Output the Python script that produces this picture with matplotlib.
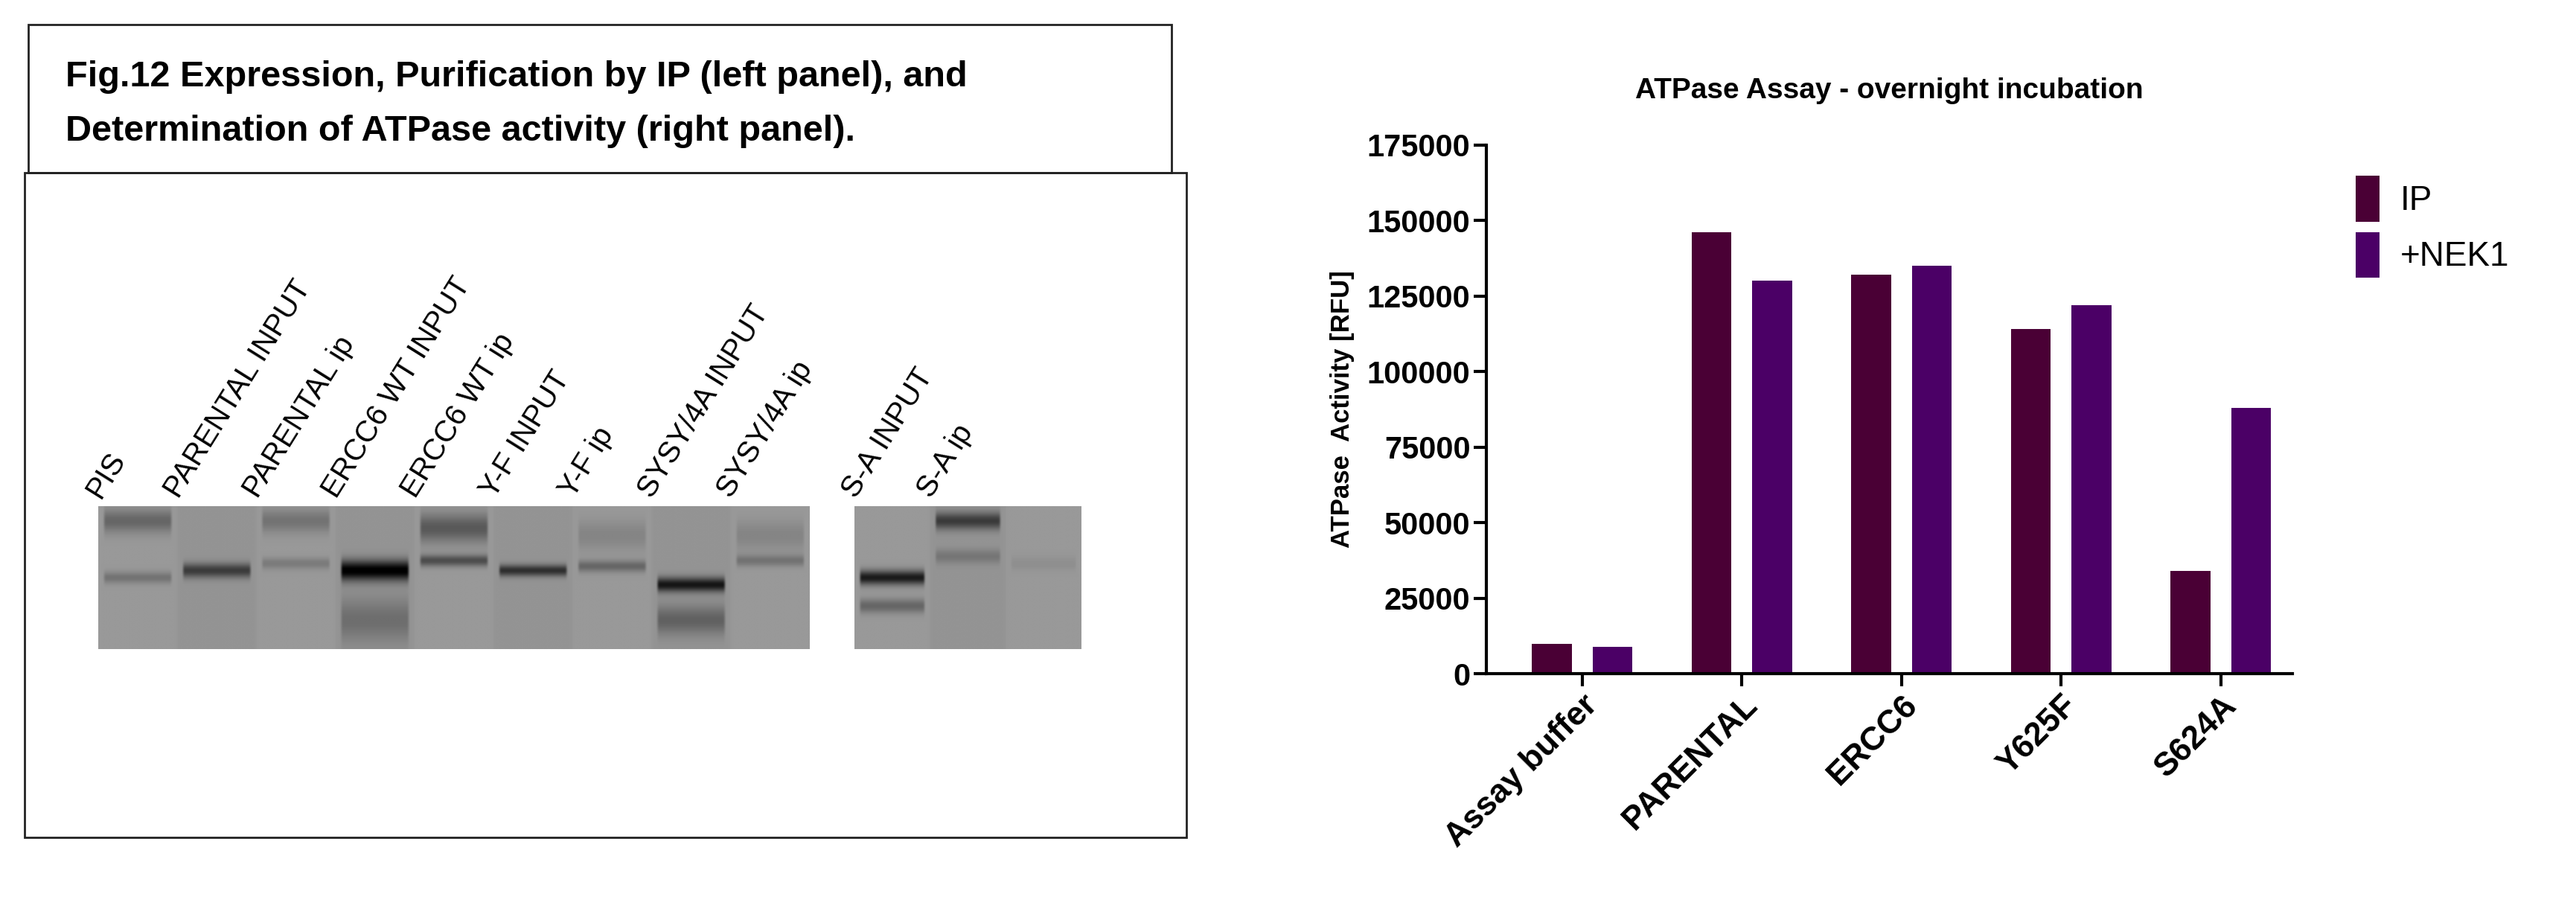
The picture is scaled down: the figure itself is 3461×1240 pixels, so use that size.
import numpy as np
import matplotlib
matplotlib.use("Agg")
import matplotlib.pyplot as plt
from matplotlib.patches import Rectangle

plt.rcParams['font.family'] = ['Liberation Sans', 'DejaVu Sans']

categories = ["Assay buffer", "PARENTAL", "ERCC6", "Y625F", "S624A"]
ip_values = [10000, 146000, 132000, 114000, 34000]
nek1_values = [9000, 130000, 135000, 122000, 88000]
series_names = ["IP", "+NEK1"]
yticks = [0, 25000, 50000, 75000, 100000, 125000, 150000, 175000]

lane_labels = ["PIS", "PARENTAL INPUT", "PARENTAL ip", "ERCC6 WT INPUT", "ERCC6 WT ip",
               "Y-F INPUT", "Y-F ip", "SYSY/4A INPUT", "SYSY/4A ip",
               "S-A INPUT", "S-A ip", ""]
# per-lane bands: (relative position 0=top..1=bottom, darkness, width)
lane_bands = [
    [(0.1, 0.2, 0.08), (0.5, 0.15, 0.04)],
    [(0.45, 0.35, 0.05)],
    [(0.1, 0.15, 0.08), (0.4, 0.12, 0.04)],
    [(0.45, 0.6, 0.07), (0.8, 0.15, 0.15)],
    [(0.15, 0.25, 0.1), (0.38, 0.3, 0.04)],
    [(0.45, 0.4, 0.04)],
    [(0.2, 0.08, 0.1), (0.42, 0.2, 0.04)],
    [(0.55, 0.5, 0.05), (0.8, 0.2, 0.1)],
    [(0.2, 0.08, 0.1), (0.38, 0.15, 0.04)],
    [(0.5, 0.5, 0.05), (0.7, 0.2, 0.05)],
    [(0.1, 0.35, 0.06), (0.35, 0.12, 0.05)],
    [(0.4, 0.04, 0.05)],
]

W, H = 3461, 1240
fig = plt.figure(figsize=(W / 100, H / 100), dpi=100)
fig.patch.set_facecolor("white")

ov = fig.add_axes([0, 0, 1, 1])
ov.axis("off")
ov.add_patch(Rectangle((17, 15), 696, 90, fill=False, lw=2, ec="#222222"))
ov.add_patch(Rectangle((15, 105), 707, 405, fill=False, lw=2, ec="#222222"))
ov.text(40, 47, "Fig.12 Expression, Purification by IP (left panel), and",
        fontsize=35, fontweight="bold", va="center", ha="left")
ov.text(40, 80, "Determination of ATPase activity (right panel).",
        fontsize=35, fontweight="bold", va="center", ha="left")

def gel(x0, x1, lanes):
    n = len(lanes)
    rows = 120
    img = np.full((rows, n * 40), 0.6)
    y = np.linspace(0, 1, rows)[:, None]
    for i, bands in enumerate(lanes):
        col = np.zeros((rows, 1))
        for pos, dark, wid in bands:
            col += dark * np.exp(-((y - pos) / wid) ** 2)
        img[:, i * 40 + 3:(i + 1) * 40 - 3] -= col
        img[:, i * 40:(i + 1) * 40] -= 0.02 * (i % 2)
    ov.imshow(np.clip(img, 0, 1), cmap="gray", vmin=0, vmax=1, aspect="auto",
              extent=(x0, x1, 395, 308), interpolation="bicubic")

gel(60, 493, lane_bands[:9])
gel(520, 658, lane_bands[9:])
ov.set_xlim(0, 1568)
ov.set_ylim(562, 0)

lane_x = [60 + 48 * i for i in range(9)] + [520 + 46 * i for i in range(3)]
for x, lab in zip(lane_x, lane_labels):
    if lab:
        ov.text(x + 4, 306, lab, rotation=58, rotation_mode="anchor",
                fontsize=29, ha="left", va="bottom")

ax = fig.add_axes([0.577, 0.270, 0.313, 0.573])
x = np.arange(len(categories))
w = 0.25
ax.bar(x - 0.19, ip_values, w, color="#4a0035", label=series_names[0])
ax.bar(x + 0.19, nek1_values, w, color="#4b0066", label=series_names[1])
ax.set_ylim(0, 175000)
ax.set_xlim(-0.6, 4.45)
ax.set_yticks(yticks)
ax.set_yticklabels([str(v) for v in yticks], fontsize=30, fontweight="bold")
ax.set_xticks(x)
ax.set_xticklabels(categories, rotation=45, ha="right", rotation_mode="anchor",
                   fontsize=32, fontweight="bold")
for s in ["top", "right"]:
    ax.spines[s].set_visible(False)
for s in ["left", "bottom"]:
    ax.spines[s].set_linewidth(3)
ax.tick_params(width=3, length=12)
ax.set_ylabel("ATPase  Activity [RFU]", fontsize=25, fontweight="bold", labelpad=12)
ax.set_title("ATPase Assay - overnight incubation", fontsize=28, fontweight="bold", pad=45)
ax.legend(loc="upper left", bbox_to_anchor=(1.04, 1.0), frameon=False,
          handlelength=0.7, handleheight=1.7, handletextpad=0.6,
          labelspacing=0.3, prop={"size": 33})

fig.savefig("out.png", dpi=100)
